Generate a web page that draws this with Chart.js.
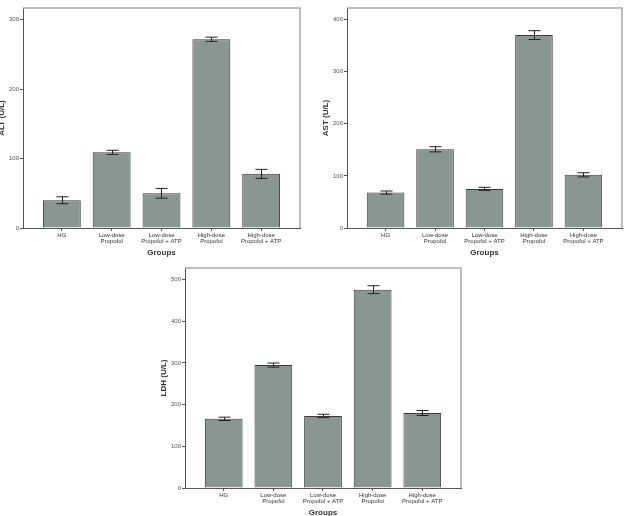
<!DOCTYPE html>
<html>
<head>
<meta charset="utf-8">
<script src="https://cdn.jsdelivr.net/npm/chart.js@4.4.1/dist/chart.umd.min.js"></script>
<style>
  html,body{margin:0;padding:0;background:#fff;}
  body{width:624px;height:516px;overflow:hidden;position:relative;}
  canvas{position:absolute;}
</style>
</head>
<body>
<canvas id="alt" width="323" height="262" style="left:-13px;top:0px"></canvas>
<canvas id="ast" width="315" height="262" style="left:311px;top:0px"></canvas>
<canvas id="ldh" width="320" height="262" style="left:149px;top:260px"></canvas>
<script>
// groups on the x axis (each entry = lines of the label)
const groups = [
  ['HG'],
  ['Low-dose', 'Propofol'],
  ['Low-dose', 'Propofol + ATP'],
  ['High-dose', 'Propofol'],
  ['High-dose', 'Propofol + ATP']
];

// means and error bar half-widths
const altValues = [40, 109, 50, 272, 78];
const altErrors = [5, 3, 7, 3, 6.5];
const astValues = [68, 151, 75, 370, 102];
const astErrors = [3, 5, 3, 8.5, 4];
const ldhValues = [166, 295, 173, 476, 180];
const ldhErrors = [4, 5, 4, 9.5, 6];

// y tick labels and axis tops
const altTicks = [0, 100, 200, 300];
const astTicks = [0, 100, 200, 300, 400];
const ldhTicks = [0, 100, 200, 300, 400, 500];
const altMax = 317, astMax = 422, ldhMax = 528;

const barFill = '#8a9694';
const barEdge = '#3a3a3a';
const axisColor = '#555';

// draws error bars from dataset.errors through the scales
const errorBarPlugin = {
  id: 'errorBars',
  afterDatasetsDraw(chart){
    const ctx = chart.ctx;
    const x = chart.scales.x, y = chart.scales.y;
    chart.data.datasets.forEach(ds=>{
      if(!ds.errors) return;
      ctx.save();
      ctx.strokeStyle = '#222';
      ctx.lineWidth = 1;
      ds.data.forEach((pt, i)=>{
        const e = ds.errors[i];
        const px = Math.round(x.getPixelForValue(pt.x)) + 0.5;
        const top = y.getPixelForValue(pt.y + e);
        const bot = y.getPixelForValue(pt.y - e);
        ctx.beginPath();
        ctx.moveTo(px, top); ctx.lineTo(px, bot);
        ctx.moveTo(px - 6, top); ctx.lineTo(px + 6, top);
        ctx.moveTo(px - 6, bot); ctx.lineTo(px + 6, bot);
        ctx.stroke();
      });
      ctx.restore();
    });
  }
};

// light frame on top and right of the plot area
const framePlugin = {
  id: 'frame',
  afterDraw(chart){
    const a = chart.chartArea, ctx = chart.ctx;
    ctx.save();
    ctx.strokeStyle = '#a8a8a8';
    ctx.lineWidth = 1.5;
    ctx.beginPath();
    ctx.moveTo(a.left, a.top); ctx.lineTo(a.right, a.top); ctx.lineTo(a.right, a.bottom);
    ctx.stroke();
    ctx.restore();
  }
};

function makeChart(id, title, values, errors, ticks, yMax, pad){
  const ctx = document.getElementById(id).getContext('2d');
  return new Chart(ctx, {
    type: 'bar',
    data: {
      datasets: [{
        data: values.map((v, i)=>({x: i + 1, y: v})),
        errors: errors,
        backgroundColor: barFill,
        borderColor: barEdge,
        borderWidth: 1,
        barPercentage: 0.95,
        categoryPercentage: 0.8
      }]
    },
    options: {
      responsive: false,
      animation: false,
      layout: {padding: {top: 8, right: pad, left: 0, bottom: 0}},
      plugins: {legend: {display: false}, tooltip: {enabled: false}},
      scales: {
        x: {
          type: 'linear',
          offset: false,
          min: 0.22, max: 5.78,
          afterBuildTicks: s => { s.ticks = groups.map((g, i)=>({value: i + 1})); },
          afterFit: s => { s.height = 34; },
          ticks: {
            callback: v => groups[v - 1] || '',
            color: '#333',
            font: {family: 'Liberation Sans, Arial, sans-serif', size: 6, lineHeight: 1},
            padding: 1,
            maxRotation: 0, autoSkip: false
          },
          grid: {drawOnChartArea: false, tickLength: 3, color: axisColor, offset: false},
          border: {color: axisColor, width: 1},
          title: {
            display: true, text: 'Groups', color: '#333',
            font: {family: 'Liberation Sans, Arial, sans-serif', size: 8, weight: 'bold'},
            padding: {top: 0, bottom: 4}
          }
        },
        y: {
          min: 0, max: yMax,
          afterBuildTicks: s => { s.ticks = ticks.map(v=>({value: v})); },
          afterFit: s => { s.width = 36; },
          ticks: {
            color: '#555',
            font: {family: 'Liberation Sans, Arial, sans-serif', size: 6},
            padding: 1
          },
          grid: {drawOnChartArea: false, tickLength: 3, color: axisColor},
          border: {color: axisColor, width: 1},
          title: {
            display: true, text: title, color: '#333',
            font: {family: 'Liberation Sans, Arial, sans-serif', size: 8, weight: 'bold'},
            padding: {top: 10, bottom: 0}
          }
        }
      }
    },
    plugins: [errorBarPlugin, framePlugin]
  });
}

makeChart('alt', 'ALT (U/L)', altValues, altErrors, altTicks, altMax, 10);
makeChart('ast', 'AST (U/L)', astValues, astErrors, astTicks, astMax, 4);
makeChart('ldh', 'LDH (U/L)', ldhValues, ldhErrors, ldhTicks, ldhMax, 8);
</script>
</body>
</html>
